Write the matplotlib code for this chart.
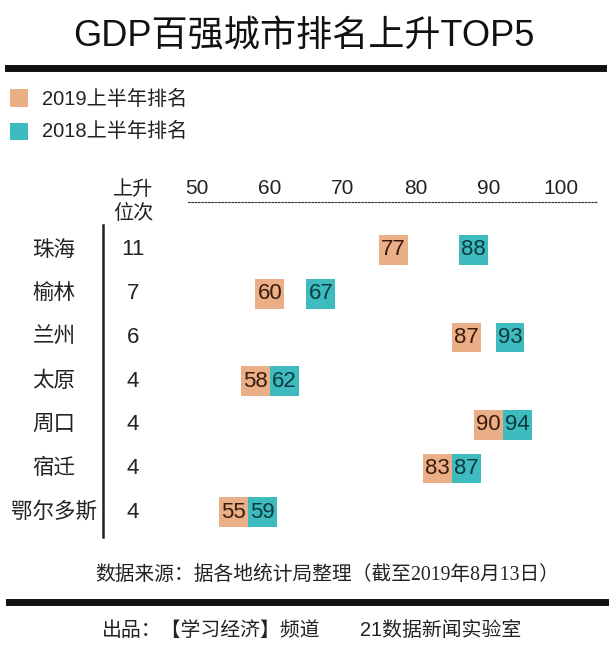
import matplotlib
matplotlib.use('Agg')
import matplotlib.pyplot as plt
import matplotlib.transforms as mtransforms
from matplotlib.patches import Rectangle
from matplotlib.lines import Line2D

# letras latinas em Liberation Sans, chinês cai no Noto
plt.rcParams['font.family'] = ['Liberation Sans', 'Noto Sans CJK SC', 'DejaVu Sans']

# --- dados ---
cidades = ['珠海', '榆林', '兰州', '太原', '周口', '宿迁', '鄂尔多斯']
subida = [11, 7, 6, 4, 4, 4, 4]
rank_2019 = [77, 60, 87, 58, 90, 83, 55]
rank_2018 = [88, 67, 93, 62, 94, 87, 59]
ticks = [50, 60, 70, 80, 90, 100]

cor_2019 = '#EBAF87'
cor_2018 = '#3DBBBF'
txt_2019 = '#3a1a0c'
txt_2018 = '#0c3a3d'

W, H = 612, 669
fig = plt.figure(figsize=(W / 100, H / 100), dpi=100)


def fy(p):
    return 1 - p / H


def fx(p):
    return p / W


ax = fig.add_axes([fx(188), fy(540), fx(598) - fx(188), (540 - 202) / H])
ax.set_xlim(50 - 9 / 7.28, 50 + 401 / 7.28)
ax.set_ylim((540 - 250) / 43.7, (202 - 250) / 43.7)

for s in ['left', 'right', 'bottom']:
    ax.spines[s].set_visible(False)
ax.spines['top'].set_linestyle((0, (1.5, 1.5)))
ax.spines['top'].set_linewidth(0.8)
ax.spines['top'].set_color('#333333')
ax.xaxis.tick_top()
ax.set_xticks(ticks)
ax.set_xticklabels([str(t) for t in ticks], fontsize=15, color='#222222')
ax.tick_params(axis='x', length=0, pad=3)
ax.set_yticks([])

largura = 3.95
altura = 0.68
for i in range(len(cidades)):
    for v, cor, ct in [(rank_2019[i], cor_2019, txt_2019), (rank_2018[i], cor_2018, txt_2018)]:
        ax.add_patch(Rectangle((v - largura / 2, i - altura / 2), largura, altura,
                               facecolor=cor, edgecolor='none'))
        ax.text(v, i, str(v), ha='center', va='center', fontsize=16, color=ct)

# nomes das cidades e subida
trans = mtransforms.blended_transform_factory(fig.transFigure, ax.transData)
for i, (c, s) in enumerate(zip(cidades, subida)):
    ax.text(fx(54), i, c, transform=trans, ha='center', va='center', fontsize=15.5, color='#222222')
    ax.text(fx(133), i, str(s), transform=trans, ha='center', va='center', fontsize=16, color='#222222')

fig.text(fx(133), fy(189), '上升', ha='center', va='center', fontsize=14.5, color='#222222')
fig.text(fx(133), fy(213), '位次', ha='center', va='center', fontsize=14.5, color='#222222')

fig.add_artist(Line2D([fx(103), fx(103)], [fy(225), fy(537)], color='#222222', linewidth=1.8))

# titulo e linhas grossas
fig.text(fx(304), fy(37), 'GDP百强城市排名上升TOP5', ha='center', va='center', fontsize=26, color='#111111')
fig.add_artist(Line2D([fx(8), fx(603)], [fy(67.5), fy(67.5)], color='#111111', linewidth=5))
fig.add_artist(Line2D([fx(9), fx(605)], [fy(601.5), fy(601.5)], color='#111111', linewidth=5))

# legenda
fig.add_artist(Rectangle((fx(10), fy(107)), 18 / W, 18 / H, facecolor=cor_2019, edgecolor='none',
                         transform=fig.transFigure))
fig.add_artist(Rectangle((fx(10), fy(140)), 18 / W, 17 / H, facecolor=cor_2018, edgecolor='none',
                         transform=fig.transFigure))
fig.text(fx(42), fy(99), '2019上半年排名', ha='left', va='center', fontsize=14.5, color='#222222')
fig.text(fx(42), fy(131), '2018上半年排名', ha='left', va='center', fontsize=14.5, color='#222222')

# fonte e rodape
fig.text(fx(95), fy(575), '数据来源：据各地统计局整理（截至2019年8月13日）', ha='left', va='center',
         fontsize=14.2, color='#222222', family=['Liberation Serif', 'Noto Sans CJK SC'])
fig.text(fx(102), fy(630), '出品：【学习经济】频道', ha='left', va='center', fontsize=14.3, color='#222222')
fig.text(fx(360), fy(630), '21数据新闻实验室', ha='left', va='center', fontsize=14.3, color='#222222')

fig.savefig('out.png', dpi=100)
